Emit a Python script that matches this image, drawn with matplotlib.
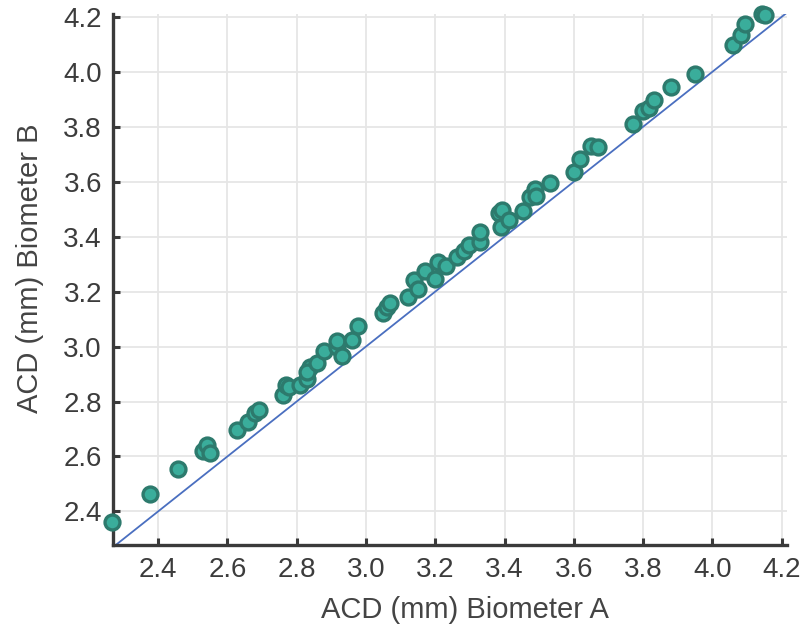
import matplotlib
matplotlib.use('Agg')
import matplotlib.pyplot as plt
import numpy as np

# ACD readings (mm), biometer A vs biometer B
acd_a = [2.267, 2.378, 2.458, 2.530, 2.540, 2.551, 2.627, 2.660, 2.679, 2.692,
         2.761, 2.769, 2.779, 2.810, 2.831, 2.838, 2.829, 2.858, 2.879, 2.916,
         2.917, 2.932, 2.959, 2.978, 3.050, 3.060, 3.068, 3.121, 3.140, 3.149,
         3.169, 3.200, 3.209, 3.232, 3.262, 3.282, 3.298, 3.328, 3.330, 3.383,
         3.392, 3.390, 3.414, 3.453, 3.472, 3.489, 3.492, 3.530, 3.599, 3.619,
         3.650, 3.669, 3.771, 3.800, 3.816, 3.830, 3.881, 3.951, 4.060, 4.081,
         4.093, 4.142, 4.153]
acd_b = [2.360, 2.463, 2.554, 2.621, 2.643, 2.612, 2.697, 2.724, 2.758, 2.770,
         2.824, 2.861, 2.852, 2.861, 2.881, 2.927, 2.909, 2.940, 2.982, 3.000,
         3.022, 2.966, 3.024, 3.073, 3.121, 3.145, 3.160, 3.182, 3.243, 3.209,
         3.275, 3.245, 3.309, 3.293, 3.325, 3.349, 3.370, 3.382, 3.418, 3.487,
         3.497, 3.436, 3.461, 3.493, 3.545, 3.572, 3.548, 3.594, 3.636, 3.681,
         3.730, 3.725, 3.810, 3.858, 3.867, 3.897, 3.943, 3.992, 4.097, 4.133,
         4.173, 4.210, 4.206]

ticks = [2.4, 2.6, 2.8, 3.0, 3.2, 3.4, 3.6, 3.8, 4.0, 4.2]
xlim = (2.27, 4.215)
ylim = (2.278, 4.21)

plt.rcParams['font.family'] = ['Liberation Sans', 'DejaVu Sans']

fig = plt.figure(figsize=(8.05, 6.28), dpi=100)
ax = fig.add_axes([0.1404, 0.1322, 0.8372, 0.8455])

ax.grid(True, color='#e6e6e6', linewidth=1.3, zorder=0)
ax.set_axisbelow(True)

lo = min(xlim[0], ylim[0])
hi = max(xlim[1], ylim[1])
ax.plot([lo, hi], [lo, hi], color='#4a6fc0', linewidth=1.3, zorder=2)

ax.scatter(acd_a, acd_b, s=115, facecolor='#3aad9b', edgecolor='#2d7a6d',
           linewidth=2.4, zorder=4, clip_on=False)

ax.set_xlim(*xlim)
ax.set_ylim(*ylim)
ax.set_xticks(ticks)
ax.set_yticks(ticks)
ax.set_xticklabels(['%.1f' % t for t in ticks])
ax.set_yticklabels(['%.1f' % t for t in ticks])

for s in ['top', 'right']:
    ax.spines[s].set_visible(False)
for s in ['left', 'bottom']:
    ax.spines[s].set_color('#3a3a3a')
    ax.spines[s].set_linewidth(2.4)

ax.tick_params(direction='in', length=5, width=2.2, color='#3a3a3a',
               labelsize=20, labelcolor='#3c3c3c')
ax.tick_params(axis='x', pad=9)
ax.tick_params(axis='y', pad=8)

ax.set_xlabel('ACD (mm) Biometer A', fontsize=21, color='#444444',
              labelpad=9, x=0.522)
ax.set_ylabel('ACD (mm) Biometer B', fontsize=21, color='#444444',
              labelpad=14, y=0.521)

fig.savefig('out.png', dpi=100, facecolor='white')
